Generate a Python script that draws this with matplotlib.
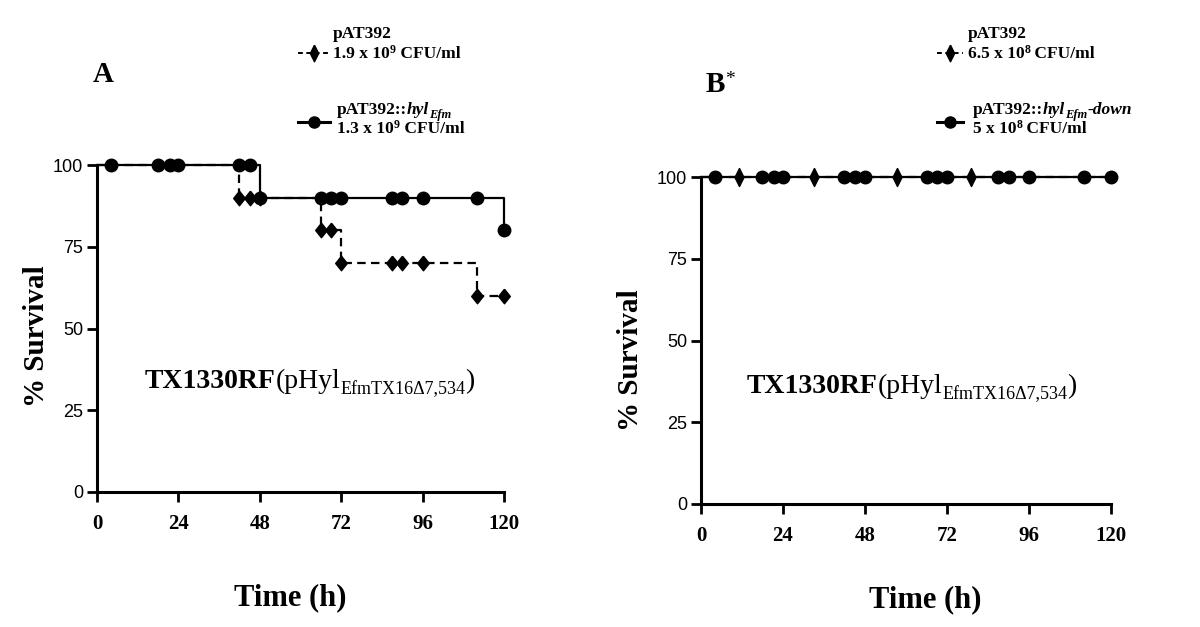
import matplotlib
matplotlib.use("Agg")
import matplotlib.pyplot as plt
from matplotlib.lines import Line2D
import numpy as np

W, H = 1200, 627
SERIF = "Liberation Serif"
SANS = "Liberation Sans"

# Panel A: Kaplan-Meier survival (time in h, % survival)
a_ctrl_step_t = [0, 42, 66, 72, 112]
a_ctrl_step_s = [100, 90, 80, 70, 60]
a_ctrl_marks = [42, 45, 48, 66, 69, 72, 87, 90, 96, 112, 120]
a_hyl_step_t = [0, 48, 120]
a_hyl_step_s = [100, 90, 80]
a_hyl_marks = [4, 18, 21.5, 24, 42, 45, 48, 66, 69, 72, 87, 90, 96, 112, 120]

# Panel B: nobody died
b_ctrl_step_t = [0]
b_ctrl_step_s = [100]
b_ctrl_marks = [11, 33, 57.5, 79]
b_hyl_step_t = [0]
b_hyl_step_s = [100]
b_hyl_marks = [4, 18, 21.5, 24, 42, 45, 48, 66, 69, 72, 87, 90, 96, 112, 120]

x_ticks = [0, 24, 48, 72, 96, 120]
y_ticks = [0, 25, 50, 75, 100]
T_END = 120

# diamond shapes (wide one for panel A, slim one for panel B / legends)
DIA_A = [(0, 1), (0.8, 0), (0, -1), (-0.8, 0), (0, 1)]
DIA_B = [(0, 1), (0.5, 0), (0, -1), (-0.5, 0), (0, 1)]


def px(x, y):
    return x / W, 1 - y / H


def km(ax, step_t, step_s, marks, dashed, marker, ms):
    xs = list(step_t) + [T_END]
    ys = list(step_s) + [step_s[-1]]
    ls = dict(dashes=(3.8, 2.4)) if dashed else dict(linestyle="-")
    ax.step(xs, ys, where="post", color="black", lw=1.6, clip_on=False, **ls)
    idx = np.searchsorted(step_t, marks, side="right") - 1
    ax.plot(marks, np.array(step_s)[idx], linestyle="none", marker=marker,
            ms=ms, color="black", clip_on=False, zorder=5)


def style_axes(ax):
    for s in ["top", "right"]:
        ax.spines[s].set_visible(False)
    for s in ["left", "bottom"]:
        ax.spines[s].set_linewidth(2.2)
    ax.set_xlim(0, 120)
    ax.set_ylim(0, 100)
    ax.set_xticks(x_ticks)
    ax.set_yticks(y_ticks)
    ax.tick_params(direction="out", length=7, width=2)
    ax.tick_params(axis="x", pad=9)
    ax.tick_params(axis="y", pad=3)
    for lab in ax.get_xticklabels():
        lab.set_fontfamily(SERIF)
        lab.set_fontweight("bold")
        lab.set_fontsize(15)
    for lab in ax.get_yticklabels():
        lab.set_fontfamily(SANS)
        lab.set_fontsize(13)


def rich(fig, x, y, parts):
    # parts: (text, size, weight, style, dy in px)
    r = fig.canvas.get_renderer()
    for s, size, weight, style, dy in parts:
        t = fig.text(*px(x, y + dy), s, fontsize=size, fontweight=weight,
                     fontstyle=style, family=SERIF, va="baseline", ha="left")
        x += t.get_window_extent(r).width


def legend_sample(fig, x0, x1, y, dashed, marker, ms):
    xa, ya = px(x0, y)
    xb, _ = px(x1, y)
    ln = Line2D([xa, xb], [ya, ya], transform=fig.transFigure, color="black",
                lw=2.2 if not dashed else 1.4)
    if dashed:
        ln.set_dashes((2.5, 1.8))
    fig.add_artist(ln)
    fig.add_artist(Line2D([(xa + xb) / 2], [ya], transform=fig.transFigure,
                          marker=marker, ms=ms, color="black"))


fig = plt.figure(figsize=(12, 6.27), dpi=100)

axA = fig.add_axes([97 / W, 1 - 492 / H, 407 / W, 327 / H])
km(axA, a_ctrl_step_t, a_ctrl_step_s, a_ctrl_marks, True, DIA_A, 10.5)
km(axA, a_hyl_step_t, a_hyl_step_s, a_hyl_marks, False, "o", 9)
style_axes(axA)

axB = fig.add_axes([701 / W, 1 - 504 / H, 410 / W, 327 / H])
km(axB, b_hyl_step_t, b_hyl_step_s, b_hyl_marks, False, "o", 9)
km(axB, b_ctrl_step_t, b_ctrl_step_s, b_ctrl_marks, True, DIA_B, 13)
style_axes(axB)

# axis labels
fig.text(*px(37, 336), "% Survival", rotation=90, ha="center", va="center",
         family=SERIF, fontweight="bold", fontsize=21)
fig.text(*px(631, 360), "% Survival", rotation=90, ha="center", va="center",
         family=SERIF, fontweight="bold", fontsize=21)
fig.text(*px(290, 598), "Time (h)", ha="center", va="center",
         family=SERIF, fontweight="bold", fontsize=22)
fig.text(*px(925, 600), "Time (h)", ha="center", va="center",
         family=SERIF, fontweight="bold", fontsize=22)

# panel letters
fig.text(*px(103, 82), "A", ha="center", va="baseline", family=SERIF,
         fontweight="bold", fontsize=21)
rich(fig, 706, 92, [("B", 21, "bold", "normal", 0), ("*", 14, "normal", "normal", -8)])

# strain annotation
for x0, y0 in [(145, 388), (747, 393)]:
    rich(fig, x0, y0, [
        ("TX1330RF", 20, "bold", "normal", 0),
        ("(pHyl", 20, "normal", "normal", 0),
        ("EfmTX16\u03947,534", 13, "normal", "normal", 6),
        (")", 20, "normal", "normal", 0),
    ])

# legends
legend_sample(fig, 298, 330, 53, True, DIA_B, 12)
legend_sample(fig, 298, 330, 122, False, "o", 8)
rich(fig, 333, 38, [("pAT392", 12.5, "bold", "normal", 0)])
rich(fig, 333, 58, [("1.9 x 10", 12.5, "bold", "normal", 0), ("9", 8.5, "bold", "normal", -5),
                    (" CFU/ml", 12.5, "bold", "normal", 0)])
rich(fig, 337, 114, [("pAT392::", 12.5, "bold", "normal", 0), ("hyl", 12.5, "bold", "italic", 0),
                     ("Efm", 9, "bold", "italic", 4)])
rich(fig, 337, 133, [("1.3 x 10", 12.5, "bold", "normal", 0), ("9", 8.5, "bold", "normal", -5),
                     (" CFU/ml", 12.5, "bold", "normal", 0)])

legend_sample(fig, 937, 963, 53, True, DIA_B, 12)
legend_sample(fig, 937, 963, 122, False, "o", 8)
rich(fig, 968, 38, [("pAT392", 12.5, "bold", "normal", 0)])
rich(fig, 968, 58, [("6.5 x 10", 12.5, "bold", "normal", 0), ("8", 8.5, "bold", "normal", -5),
                    (" CFU/ml", 12.5, "bold", "normal", 0)])
rich(fig, 973, 114, [("pAT392::", 12.5, "bold", "normal", 0), ("hyl", 12.5, "bold", "italic", 0),
                     ("Efm", 9, "bold", "italic", 4), ("-down", 12.5, "bold", "italic", 0)])
rich(fig, 973, 133, [("5 x 10", 12.5, "bold", "normal", 0), ("8", 8.5, "bold", "normal", -5),
                     (" CFU/ml", 12.5, "bold", "normal", 0)])

fig.savefig("out.png", dpi=100)
